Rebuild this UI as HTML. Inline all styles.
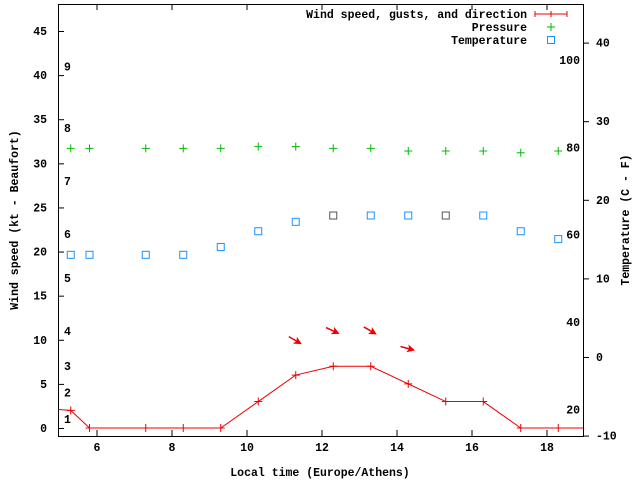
<!DOCTYPE html>
<html><head><meta charset="utf-8"><style>
body{margin:0;background:#fff}
svg{display:block}
text{font-family:"Liberation Mono",monospace;font-size:11.5px;font-weight:bold;fill:#000}
</style></head><body>
<svg id="c" width="640" height="480" xmlns="http://www.w3.org/2000/svg">
<rect x="58.5" y="4.5" width="525" height="432" fill="none" stroke="#000"/>
<g id="g"></g>
<text x="320" y="476" text-anchor="middle">Local time (Europe/Athens)</text>
<text transform="translate(18,220) rotate(-90)" text-anchor="middle">Wind speed (kt - Beaufort)</text>
<text transform="translate(629,220) rotate(-90)" text-anchor="middle">Temperature (C - F)</text>
<g>
<text x="527" y="18" text-anchor="end">Wind speed, gusts, and direction</text>
<path d="M535 14H567M535 11V17M551 11V17M567 11V17" stroke="#e00" stroke-width="1"/>
<text x="527" y="31" text-anchor="end">Pressure</text>
<path d="M547 27H555M551 23V31" stroke="#0b0"/>
<text x="527" y="44" text-anchor="end">Temperature</text>
<rect x="547.5" y="36.5" width="7" height="7" fill="none" stroke="#1e90ff"/>
</g>
</svg>
<script>
const times=[5.3,5.8,7.3,8.3,9.3,10.3,11.3,12.3,13.3,14.3,15.3,16.3,17.3,18.3];
const wind=[2.0,0,0,0,0,3,6,7,7,5,3,3,0,0];
const pressure=[31.7,31.7,31.7,31.7,31.7,31.9,31.9,31.7,31.7,31.4,31.4,31.4,31.2,31.4];
const tempC=[13,13,13,13,14,16,17.2,18,18,18,18,18,16,15];
const tempGrey=[0,0,0,0,0,0,0,1,0,0,1,0,0,0];
const arrowTimes=[11.3,12.3,13.3,14.3];
const arrowY=[9.9,11.0,11.0,9.0];
const arrowAngle=[30,25,30,15];
const xTicks=[6,8,10,12,14,16,18];
const yTicks=[0,5,10,15,20,25,30,35,40,45];
const y2Ticks=[-10,0,10,20,30,40];
const fTicks=[20,40,60,80,100];
const beaufort=[1,2,3,4,5,6,7,8,9];
const beaufortKt=[1,4,7,11,17,22,28,34,41];
const X=h=>97+(h-6)*37.5;
const Y=v=>428-v*(397/45);
const Y2=c=>357-c*7.86;
const g=document.getElementById('g');
const NS='http://www.w3.org/2000/svg';
function mk(t,a){const e=document.createElementNS(NS,t);for(const k in a)e.setAttribute(k,a[k]);g.appendChild(e);return e;}
xTicks.forEach(t=>{
 const e=mk('path',{d:`M${X(t)} 436V430M${X(t)} 4V10`,stroke:'#000'});
 
 
 const l=mk('text',{x:X(t),y:451,'text-anchor':'middle'});l.textContent=t;
 
 
});
yTicks.forEach(t=>{
 const e=mk('path',{d:`M58 ${Y(t)+0.5}H64`,stroke:'#000'});
 
 
 const l=mk('text',{x:47,y:Y(t)+4,'text-anchor':'end'});l.textContent=t;
 
 
});
y2Ticks.forEach(t=>{
 const e=mk('path',{d:`M583 ${Y2(t)+0.5}H589`,stroke:'#000'});
 
 
 const l=mk('text',{x:596,y:Y2(t)+4});l.textContent=t;
 
 
});
fTicks.forEach(f=>{
 const l=mk('text',{x:580,y:Y2((f-32)/1.8)+4,'text-anchor':'end'});l.textContent=f;
 
 
});
beaufort.forEach((b,i)=>{
 const l=mk('text',{x:64,y:Y(beaufortKt[i])+4});l.textContent=b;
 
 
});
pressure.forEach((p,i)=>{
 const e=mk('path',{d:`M${X(times[i])-4} ${Y(p)}h8M${X(times[i])} ${Y(p)-4}v8`,stroke:'#0b0'});
 
 
});
tempC.forEach((c,i)=>{
 const e=mk('rect',{x:X(times[i])-3.5,y:Y2(c)-3.5,width:7,height:7,fill:'none',stroke:tempGrey[i]?'#555':'#1e90ff'});
 
 
});
let d=`M58.5 ${Y(2.1)}`;times.forEach((t,i)=>d+=`L${X(t)} ${Y(wind[i])}`);d+='L583 '+Y(0);
const ln=mk('path',{d,fill:'none',stroke:'#e00'});


times.forEach((t,i)=>{
 const e=mk('path',{d:`M${X(t)-4} ${Y(wind[i])}h8M${X(t)} ${Y(wind[i])-4}v8`,stroke:'#e00'});
 
 
});
arrowTimes.forEach((t,i)=>{
 const cx=X(t),cy=Y(arrowY[i]);
 const e=mk('g',{transform:`translate(${cx},${cy}) rotate(${arrowAngle[i]})`});
 
 
 const a=document.createElementNS(NS,'path');a.setAttribute('d','M-8 0H2');a.setAttribute('stroke','#e00');a.setAttribute('stroke-width','1.5');e.appendChild(a);
 const h=document.createElementNS(NS,'path');h.setAttribute('d','M7 0L-1 -4L1 0L-1 4Z');h.setAttribute('fill','#e00');e.appendChild(h);
});
</script>
</body></html>
